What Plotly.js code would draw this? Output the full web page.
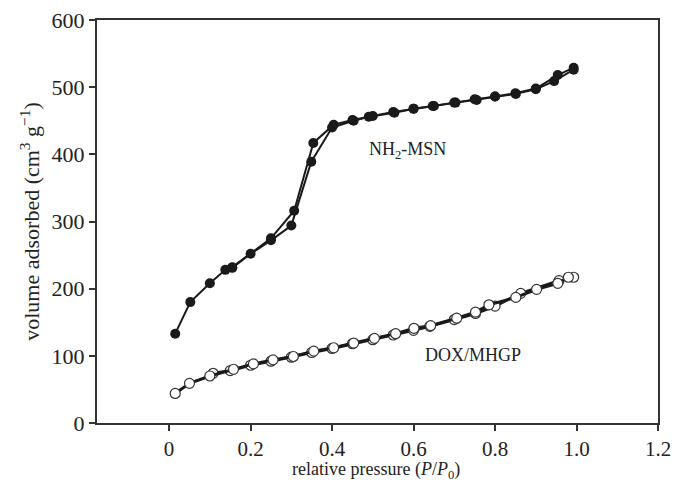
<!DOCTYPE html>
<html>
<head>
<meta charset="utf-8">
<script src="https://cdn.plot.ly/plotly-3.0.1.min.js"></script>
<style>html,body{margin:0;padding:0;background:#fff;}#chart{width:673px;height:482px;}</style>
</head>
<body>
<div id="chart"></div>
<script>
// NH2-MSN adsorption branch
const nh2AdsX = [0.015, 0.052, 0.10, 0.138, 0.155, 0.2, 0.25, 0.30, 0.349, 0.40, 0.453, 0.49, 0.553, 0.60, 0.647, 0.703, 0.755, 0.80, 0.851, 0.90, 0.945, 0.993];
const nh2AdsY = [133, 180, 208, 228, 231, 252, 272, 294, 389, 440, 450, 456, 462, 468, 472, 477, 481, 486, 490, 497, 509, 526];
// NH2-MSN desorption branch
const nh2DesX = [0.993, 0.954, 0.90, 0.85, 0.80, 0.75, 0.70, 0.65, 0.60, 0.55, 0.50, 0.45, 0.404, 0.354, 0.307, 0.25, 0.155];
const nh2DesY = [529, 518, 498, 491, 486, 482, 477, 472, 468, 463, 457, 451, 444, 417, 316, 275, 232];
// DOX/MHGP adsorption branch
const doxAdsX = [0.015, 0.05, 0.10, 0.158, 0.207, 0.255, 0.305, 0.355, 0.404, 0.453, 0.504, 0.556, 0.601, 0.642, 0.706, 0.752, 0.785, 0.851, 0.902, 0.954, 0.98];
const doxAdsY = [44, 59, 70, 80, 88, 94, 99, 107, 112, 119, 126, 133, 141, 145, 156, 165, 176, 187, 199, 208, 217];
// DOX/MHGP desorption branch
const doxDesX = [0.993, 0.957, 0.863, 0.80, 0.752, 0.70, 0.64, 0.60, 0.55, 0.50, 0.45, 0.40, 0.35, 0.30, 0.25, 0.20, 0.15, 0.108];
const doxDesY = [217, 212, 193, 174, 163, 154, 144, 138, 131, 124, 118, 111, 105, 98, 92, 86, 78, 74];

const xTicks = [0, 0.2, 0.4, 0.6, 0.8, 1.0, 1.2];
const xTickText = ['0', '0.2', '0.4', '0.6', '0.8', '1.0', '1.2'];
const yTicks = [0, 100, 200, 300, 400, 500, 600];

const font = 'Liberation Serif, Times New Roman, serif';
const dark = '#1a1a1a';

const traces = [
  {x: doxDesX, y: doxDesY, mode: 'lines+markers', line: {color: dark, width: 3},
   marker: {symbol: 'circle', size: 10, color: '#fff', line: {color: '#333', width: 1.2}}},
  {x: doxAdsX, y: doxAdsY, mode: 'lines+markers', line: {color: dark, width: 3},
   marker: {symbol: 'circle', size: 10, color: '#fff', line: {color: '#333', width: 1.2}}},
  {x: nh2DesX, y: nh2DesY, mode: 'lines+markers', line: {color: dark, width: 2},
   marker: {symbol: 'circle', size: 10, color: dark}},
  {x: nh2AdsX, y: nh2AdsY, mode: 'lines+markers', line: {color: dark, width: 2},
   marker: {symbol: 'circle', size: 10, color: dark}}
];

const layout = {
  width: 673, height: 482,
  margin: {l: 97, r: 15, t: 20, b: 59},
  showlegend: false,
  paper_bgcolor: '#fff', plot_bgcolor: '#fff',
  font: {family: font, color: '#222'},
  xaxis: {
    range: [-0.177, 1.2], tickvals: xTicks, ticktext: xTickText,
    ticks: 'outside', ticklen: 6, tickwidth: 2, tickcolor: '#333',
    showline: true, linewidth: 2, linecolor: '#333', mirror: true,
    showgrid: false, zeroline: false,
    tickfont: {family: font, size: 21, color: '#222'}
  },
  yaxis: {
    range: [0, 600], tickvals: yTicks,
    ticks: 'outside', ticklen: 6, tickwidth: 2, tickcolor: '#333',
    showline: true, linewidth: 2, linecolor: '#333', mirror: true,
    showgrid: false, zeroline: false,
    tickfont: {family: font, size: 22, color: '#222'},
    title: {text: 'volume adsorbed (cm<sup>3</sup> g<sup>\u22121</sup>)', font: {family: font, size: 22, color: '#222'}, standoff: 6}
  },
  annotations: [
    {x: 0.344, y: -0.118, xref: 'paper', yref: 'paper', xanchor: 'left', yanchor: 'middle',
     text: 'relative pressure (<i>P</i>/<i>P</i><sub>0</sub>)', showarrow: false,
     font: {family: font, size: 18, color: '#222'}},
    {x: 0.585, y: 406, xref: 'x', yref: 'y', text: 'NH<sub>2</sub>-MSN', showarrow: false,
     font: {family: font, size: 18, color: '#222'}},
    {x: 0.745, y: 101, xref: 'x', yref: 'y', text: 'DOX/MHGP', showarrow: false,
     font: {family: font, size: 18, color: '#222'}}
  ]
};

Plotly.newPlot('chart', traces, layout, {displayModeBar: false, staticPlot: true});
</script>
</body>
</html>
